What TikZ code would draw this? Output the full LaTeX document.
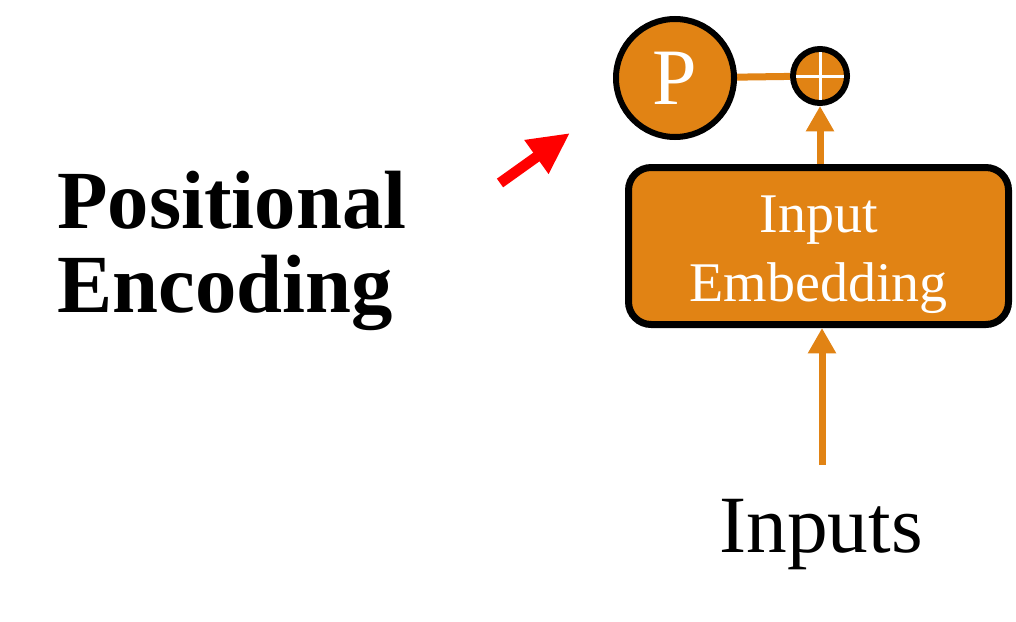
\documentclass[tikz,border=0pt]{standalone}
\usepackage{fontspec}
\setmainfont{Liberation Serif}
\usetikzlibrary{arrows.meta,backgrounds}
\definecolor{embor}{RGB}{225,131,20}
\begin{document}
\begin{tikzpicture}[x=0.75pt,y=-0.75pt,
  orangeln/.style={draw=embor, line width=5.25pt},
  orangetip/.style={-{Triangle[width=20pt,length=19pt]}},
  circ/.style={circle, draw=black, fill=embor, line width=4.5pt, inner sep=0pt},
  embbox/.style={draw=black, fill=embor, line width=5.25pt, rounded corners=17pt,
    minimum width=285pt, minimum height=117.75pt, text=white, align=center,
    inner sep=0pt, font=\fontsize{42}{52}\selectfont},
  bigtext/.style={inner sep=0pt, font=\fontsize{61}{63}\selectfont},
  titletext/.style={inner sep=0pt, align=left, font=\fontsize{62}{63}\selectfont\bfseries}
]
\useasboundingbox (0,0) rectangle (1016,621);
\node[circ, minimum size=88.5pt, text=white, font=\fontsize{60}{60}\selectfont] (P) at (675,78) {P};
\node[circ, minimum size=40.5pt] (plus) at (820,76) {};
\draw[white, line width=2.25pt] ([xshift=-18pt]plus.center) -- ([xshift=18pt]plus.center)
  ([yshift=18pt]plus.center) -- ([yshift=-18pt]plus.center);
\node[embbox] (emb) at (818.5,246) {\rule{0pt}{41pt}Input\\Embedding};
\node[bigtext, anchor=base] (inputs) at (821,552) {Inputs};
\node[titletext, anchor=base west] (pe) at (57,312) {Positional\\Encoding};
\coordinate (in0) at (822,465);
\coordinate (ra) at (500,183);
\coordinate (rb) at (570,133);
\begin{scope}[on background layer]
  \draw[orangeln] (P) -- (plus);
  \draw[orangeln, orangetip] (emb.north -| plus) -- (plus.south);
\end{scope}
\draw[orangeln, orangetip] (in0) -- (in0 |- emb.south);
\draw[red, line width=8pt, -{Triangle[width=29pt,length=31pt]}] (ra) -- (rb);
\end{tikzpicture}
\end{document}
